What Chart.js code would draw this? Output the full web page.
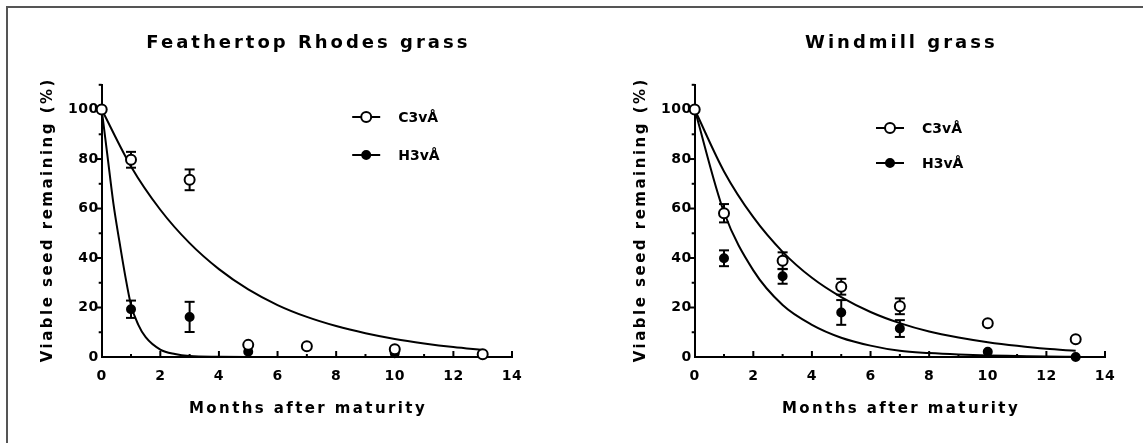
<!DOCTYPE html>
<html>
<head>
<meta charset="utf-8">
<script src="https://cdn.jsdelivr.net/npm/chart.js@4.4.0/dist/chart.umd.min.js"></script>
<style>
html,body{margin:0;padding:0;background:#fff;overflow:hidden;width:1143px;height:443px;}
#frame{position:absolute;left:6px;top:6px;width:1300px;height:600px;border-left:2px solid #555;border-top:2px solid #555;}
.box{position:absolute;top:0;width:600px;height:443px;}
</style>
</head>
<body>
<div id="frame"></div>
<div class="box" style="left:7px"><canvas id="c1"></canvas></div>
<div class="box" style="left:600px"><canvas id="c2"></canvas></div>
<script>
const FONT = "'DejaVu Sans', sans-serif";

const seriesNames = ['C3vÅ', 'H3vÅ'];
const months = [0, 1, 3, 5, 7, 10, 13];

// Feathertop Rhodes grass
const frC = [100, 79.7, 71.6, 4.9, 4.3, 3.1, 1.1];
const frCErr = [0, 3.2, 4.2, 0, 0, 0, 0];
const frH = [100, 19.3, 16.2, 2.1, null, 1.5, null];
const frHErr = [0, 3.5, 6.1, 0, 0, 0, 0];
const frFitCx = [0, 1, 2, 3, 4, 5, 6, 7, 8, 9, 10, 11, 12, 13];
const frFitC = [100, 77, 59.5, 46, 35.5, 27.3, 21, 16.2, 12.5, 9.6, 7.3, 5.5, 4, 2.8];
const frFitHx = [0, 0.2, 0.4, 0.6, 0.8, 1, 1.25, 1.5, 2, 2.5, 3, 4, 5, 13];
const frFitH = [100, 81, 62, 47, 33, 21, 13, 8, 3, 1.2, 0.4, 0.1, 0, 0];

// Windmill grass
const wmC = [100, 58.1, 38.9, 28.4, 20.5, 13.6, 7.2];
const wmCErr = [0, 3.7, 3.4, 3.2, 3.2, 0, 0];
const wmH = [100, 39.9, 32.6, 18, 11.5, 2.1, 0];
const wmHErr = [0, 3.2, 3.0, 5, 3.4, 0, 0];
const wmFitx = [0, 1, 2, 3, 4, 5, 6, 7, 8, 9, 10, 11, 12, 13];
const wmFitC = [100, 75, 56.5, 42.5, 32, 24.2, 18.2, 13.7, 10.3, 7.9, 6, 4.5, 3.3, 2.5];
const wmFitH = [100, 58.5, 35, 21, 13, 7.8, 4.6, 2.5, 1.6, 1, 0.6, 0.4, 0.2, 0.1];

function pts(xs, ys) {
  let out = [];
  xs.forEach((x, i) => { if (ys[i] !== null) out.push({x: x, y: ys[i]}); });
  return out;
}
function errs(xs, ys, e) {
  let out = [];
  xs.forEach((x, i) => { if (ys[i] !== null) out.push(e[i]); });
  return out;
}

function line(ctx, x1, y1, x2, y2) {
  ctx.beginPath(); ctx.moveTo(x1, y1); ctx.lineTo(x2, y2); ctx.stroke();
}

const decor = {
  id: 'decor',
  beforeDraw(chart) {
    chart.ctx.letterSpacing = '0.5px';
  },
  beforeDatasetsDraw(chart) {
    const {ctx, scales: {x, y}, chartArea: a} = chart;
    ctx.save();
    ctx.strokeStyle = '#000';
    ctx.lineWidth = 2;
    for (let v = 1; v <= 14; v++) {
      const px = x.getPixelForValue(v);
      line(ctx, px, a.bottom, px, a.bottom - (v % 2 === 0 ? 6 : 3));
    }
    for (let v = 10; v <= 110; v += 10) {
      const py = y.getPixelForValue(v);
      line(ctx, a.left - (v % 20 === 0 ? 5 : 3), py, a.left, py);
    }
    // error bars
    chart.data.datasets.forEach(ds => {
      if (!ds.errors) return;
      ds.data.forEach((p, i) => {
        const e = ds.errors[i];
        if (!e) return;
        const px = x.getPixelForValue(p.x);
        const y1 = y.getPixelForValue(p.y + e), y2 = y.getPixelForValue(p.y - e);
        line(ctx, px, y1, px, y2);
        line(ctx, px - 5, y1, px + 5, y1);
        line(ctx, px - 5, y2, px + 5, y2);
      });
    });
    ctx.restore();
  },
  afterDraw(chart, args, opts) {
    const {ctx, chartArea: a} = chart;
    const cx = (a.left + a.right) / 2;
    ctx.save();
    ctx.fillStyle = '#000';
    ctx.textBaseline = 'middle';
    ctx.textAlign = 'center';
    ctx.letterSpacing = '3px';
    ctx.font = 'bold 18px ' + FONT;
    ctx.fillText(opts.title, cx + 1.5, 43);
    ctx.letterSpacing = '2.4px';
    ctx.font = 'bold 15px ' + FONT;
    ctx.fillText('Months after maturity', cx + 1.2, 409);
    ctx.save();
    ctx.translate(41, (a.top + a.bottom) / 2);
    ctx.rotate(-Math.PI / 2);
    ctx.letterSpacing = '2.5px';
    ctx.fillText('Viable seed remaining (%)', 1.2, 0);
    ctx.restore();
    // legend
    ctx.letterSpacing = '0px';
    ctx.textAlign = 'left';
    ctx.font = 'bold 14px ' + FONT;
    ctx.lineWidth = 2;
    ctx.strokeStyle = '#000';
    const lx = a.left + opts.legendX;
    opts.legendY.forEach((ly, i) => {
      line(ctx, lx - 14, ly, lx + 14, ly);
      ctx.beginPath();
      ctx.arc(lx, ly, i === 0 ? 5 : 4, 0, Math.PI * 2);
      ctx.fillStyle = i === 0 ? '#fff' : '#000';
      ctx.fill();
      ctx.stroke();
      ctx.fillStyle = '#000';
      ctx.fillText(seriesNames[i], lx + 32, ly + 1);
    });
    ctx.restore();
  }
};

function makeChart(id, title, cData, cErr, hData, hErr, fitCx, fitC, fitHx, fitH, legendX, legendY) {
  const tickFont = {family: FONT, size: 14, weight: 'bold'};
  return new Chart(document.getElementById(id), {
    type: 'scatter',
    data: {
      datasets: [
        {
          label: seriesNames[0],
          data: pts(months, cData),
          errors: errs(months, cData, cErr),
          pointRadius: 5, pointBorderWidth: 2,
          pointBackgroundColor: '#fff', pointBorderColor: '#000',
          clip: false
        },
        {
          label: seriesNames[1],
          data: pts(months, hData),
          errors: errs(months, hData, hErr),
          pointRadius: 4, pointBorderWidth: 2,
          pointBackgroundColor: '#000', pointBorderColor: '#000',
          clip: false
        },
        {
          data: pts(fitCx, fitC), showLine: true, pointRadius: 0,
          borderColor: '#000', borderWidth: 2, cubicInterpolationMode: 'monotone', clip: false
        },
        {
          data: pts(fitHx, fitH), showLine: true, pointRadius: 0,
          borderColor: '#000', borderWidth: 2, cubicInterpolationMode: 'monotone', clip: false
        }
      ]
    },
    options: {
      responsive: true,
      maintainAspectRatio: false,
      animation: false,
      layout: {padding: {top: 84.8, right: 95, bottom: 0, left: 0}},
      plugins: {
        legend: {display: false},
        tooltip: {enabled: false},
        decor: {title: title, legendX: legendX, legendY: legendY}
      },
      scales: {
        x: {
          type: 'linear', min: 0, max: 14,
          afterFit: s => { s.height = 86; },
          border: {display: true, color: '#000', width: 2},
          grid: {drawOnChartArea: false, drawTicks: false},
          ticks: {
            stepSize: 1, autoSkip: false, maxRotation: 0, padding: 11,
            color: '#000', font: tickFont,
            callback: v => v % 2 === 0 ? v : ''
          }
        },
        y: {
          min: 0, max: 110,
          afterFit: s => { s.width = 94.7; },
          border: {display: true, color: '#000', width: 2},
          grid: {drawOnChartArea: false, drawTicks: false},
          ticks: {
            stepSize: 10, autoSkip: false, padding: 3,
            color: '#000', font: tickFont,
            callback: v => v % 20 === 0 && v <= 100 ? v : ''
          }
        }
      }
    },
    plugins: [decor]
  });
}

makeChart('c1', 'Feathertop Rhodes grass', frC, frCErr, frH, frHErr,
  frFitCx, frFitC, frFitHx, frFitH, 264.5, [117, 155]);
makeChart('c2', 'Windmill grass', wmC, wmCErr, wmH, wmHErr,
  wmFitx, wmFitC, wmFitx, wmFitH, 195.3, [128, 163]);
</script>
</body>
</html>
